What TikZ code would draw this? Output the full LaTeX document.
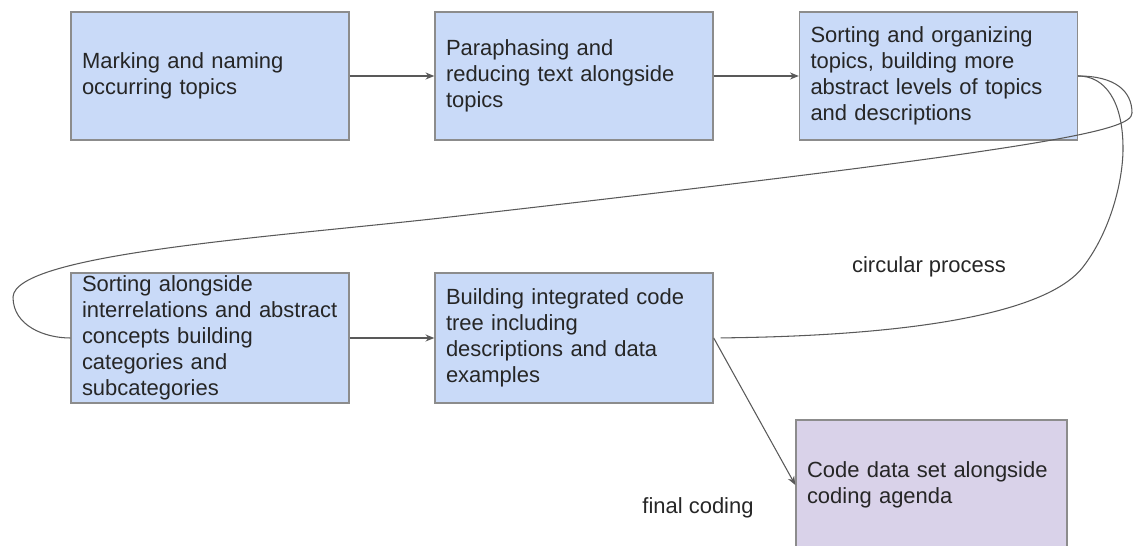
\documentclass[tikz,border=0pt]{standalone}
\usepackage{fontspec}
\setmainfont{Liberation Sans}
\usetikzlibrary{arrows.meta}
\definecolor{boxblue}{HTML}{C9DAF8}
\definecolor{boxlilac}{HTML}{D9D2E9}
\definecolor{boxedge}{HTML}{8C8C8C}
\definecolor{linegray}{HTML}{595959}
\definecolor{inkgray}{HTML}{262626}
\begin{document}
\begin{tikzpicture}[every node/.style={font=\fontsize{12.5}{14.8}\selectfont,text=inkgray},
  stage/.style={draw=boxedge,line width=0.8pt,fill=boxblue,text width=5.12cm,inner xsep=0.22cm,inner ysep=0pt,minimum height=2.6cm,align=left},
  flow/.style={draw=linegray,line width=0.6pt,-{Stealth[length=5pt,width=4pt]}},
  cycleline/.style={draw=linegray,line width=0.6pt}]
\useasboundingbox (0,0) rectangle (22.66,10.92);
% upper row
\node[stage,minimum height=2.56cm] (mark) at (4.2,9.4) {Marking and naming\\ occurring topics};
\node[stage,minimum height=2.56cm] (para) at (11.48,9.4) {Paraphasing and\\ reducing text alongside\\ topics};
\node[stage,minimum height=2.56cm] (sort) at (18.77,9.4) {Sorting and organizing\\ topics, building more\\ abstract levels of topics\\ and descriptions};
% lower row
\node[stage] (group) at (4.2,4.16) {Sorting alongside\\ interrelations and abstract\\ concepts building\\ categories and\\ subcategories};
\node[stage] (tree) at (11.48,4.16) {Building integrated code\\ tree including\\ descriptions and data\\ examples};
\node[stage,fill=boxlilac,text width=4.98cm] (agenda) at (18.63,1.22) {Code data set alongside\\ coding agenda};
\foreach \a/\b in {mark/para,para/sort,group/tree}
  \draw[flow] (\a.east) -- (\b.west);
\draw[flow] (tree.east) -- (agenda.west);
% the two loops round the right side
\draw[cycleline] (sort.east) .. controls (22.3,9.4) and (22.64,9.1) .. (22.64,8.66)
  .. controls (22.64,8.3) and (21,7.95) .. (9,6.58)
  .. controls (5.5,6.18) and (0.3,5.85) .. (0.26,4.98)
  .. controls (0.26,4.4) and (0.9,4.16) .. (group.west);
\draw[cycleline,shorten <=0.14cm] (tree.east) .. controls (18,4.2) and (20.9,4.6) .. (21.66,5.58)
  .. controls (22.21,6.29) and (22.46,7.3) .. (22.46,7.95)
  .. controls (22.46,8.9) and (22.1,9.4) .. (sort.east);
\node (circ) at (18.58,5.58) {circular process};
\node (fin) at (13.96,0.76) {final coding};
\end{tikzpicture}
\end{document}
